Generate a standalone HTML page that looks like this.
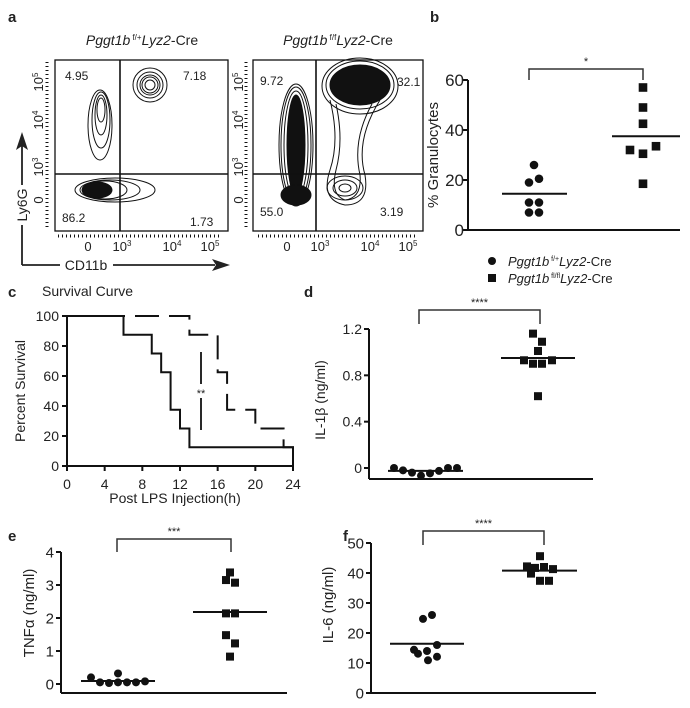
<!DOCTYPE html>
<html><head><meta charset="utf-8"><style>
html,body{margin:0;padding:0;background:#fff;}
svg{display:block;font-family:"Liberation Sans",sans-serif;}
text{fill:#222;}
</style></head><body>
<svg id="fig" width="690" height="708" viewBox="0 0 690 708">
<g>
<text x="8" y="22" font-size="15" font-weight="bold">a</text>
<text x="142" y="45" font-size="14" text-anchor="middle"><tspan font-style="italic">Pggt1b</tspan><tspan font-size="8" dy="-5"> f/+</tspan><tspan dy="5" font-style="italic">Lyz2</tspan>-Cre</text>
<text x="338" y="45" font-size="14" text-anchor="middle"><tspan font-style="italic">Pggt1b</tspan><tspan font-size="8" dy="-5"> f/f</tspan><tspan dy="5" font-style="italic">Lyz2</tspan>-Cre</text>
<g fill="none" stroke="#111" stroke-width="1">
<ellipse cx="100" cy="125" rx="12" ry="35"/><ellipse cx="101" cy="120" rx="9" ry="28"/><ellipse cx="101" cy="115" rx="6" ry="20"/><ellipse cx="101" cy="110" rx="4" ry="12"/>
<ellipse cx="150" cy="85" rx="17" ry="17"/><ellipse cx="150" cy="85" rx="13" ry="13"/><ellipse cx="150" cy="85" rx="10" ry="10"/><ellipse cx="150" cy="85" rx="8" ry="8"/><ellipse cx="150" cy="85" rx="5" ry="5"/>
<ellipse cx="115" cy="190" rx="40" ry="12"/><ellipse cx="110" cy="190" rx="30" ry="10"/><ellipse cx="105" cy="190" rx="22" ry="9"/>
<ellipse cx="97" cy="190" rx="15" ry="8" fill="#111"/>
<rect x="55" y="60" width="173" height="171" stroke-width="1.3"/>
<line x1="120" y1="60" x2="120" y2="231" stroke-width="1.6"/>
<line x1="55" y1="174" x2="228" y2="174" stroke-width="1.6"/>
<line x1="47" y1="62" x2="47" y2="228" stroke-width="3" stroke-dasharray="1 3"/>
<line x1="58" y1="236" x2="222" y2="236" stroke-width="3" stroke-dasharray="1 3"/>
</g>
<g font-size="12">
<text x="65" y="80">4.95</text><text x="183" y="80">7.18</text><text x="62" y="222">86.2</text><text x="190" y="226">1.73</text>
</g>
<g fill="none" stroke="#111" stroke-width="1">
<ellipse cx="296" cy="145" rx="9" ry="50" fill="#111"/>
<ellipse cx="296" cy="145" rx="12" ry="54"/><ellipse cx="296" cy="145" rx="15" ry="58"/><ellipse cx="296" cy="145" rx="17" ry="61"/>
<ellipse cx="360" cy="85" rx="30" ry="20" fill="#111"/>
<ellipse cx="360" cy="85" rx="34" ry="24"/><ellipse cx="360" cy="86" rx="38" ry="28"/>
<path d="M330 100 Q340 140 330 170 Q320 200 345 205 Q370 205 365 175 Q355 140 380 100"/>
<path d="M336 104 Q344 140 336 170 Q330 195 345 200 Q362 198 360 175 Q352 140 372 104"/>
<ellipse cx="345" cy="188" rx="18" ry="12"/><ellipse cx="345" cy="188" rx="12" ry="8"/><ellipse cx="345" cy="188" rx="6" ry="4"/>
<ellipse cx="296" cy="195" rx="15" ry="10" fill="#111"/>
<rect x="253" y="60" width="170" height="171" stroke-width="1.3"/>
<line x1="316" y1="60" x2="316" y2="231" stroke-width="1.6"/>
<line x1="253" y1="174" x2="423" y2="174" stroke-width="1.6"/>
<line x1="246" y1="62" x2="246" y2="228" stroke-width="3" stroke-dasharray="1 3"/>
<line x1="258" y1="236" x2="418" y2="236" stroke-width="3" stroke-dasharray="1 3"/>
</g>
<g font-size="12">
<text x="260" y="85">9.72</text><text x="397" y="86">32.1</text><text x="260" y="216">55.0</text><text x="380" y="216">3.19</text>
</g>
<g font-size="13">
<text transform="translate(43,82) rotate(-90)" text-anchor="middle">10<tspan font-size="8" dy="-5">5</tspan></text>
<text transform="translate(43,120) rotate(-90)" text-anchor="middle">10<tspan font-size="8" dy="-5">4</tspan></text>
<text transform="translate(43,167) rotate(-90)" text-anchor="middle">10<tspan font-size="8" dy="-5">3</tspan></text>
<text transform="translate(43,200) rotate(-90)" text-anchor="middle">0</text>
<text transform="translate(243,82) rotate(-90)" text-anchor="middle">10<tspan font-size="8" dy="-5">5</tspan></text>
<text transform="translate(243,120) rotate(-90)" text-anchor="middle">10<tspan font-size="8" dy="-5">4</tspan></text>
<text transform="translate(243,167) rotate(-90)" text-anchor="middle">10<tspan font-size="8" dy="-5">3</tspan></text>
<text transform="translate(243,200) rotate(-90)" text-anchor="middle">0</text>
<text x="88" y="251" text-anchor="middle">0</text><text x="122" y="251" text-anchor="middle">10<tspan font-size="8" dy="-5">3</tspan></text>
<text x="172" y="251" text-anchor="middle">10<tspan font-size="8" dy="-5">4</tspan></text><text x="210" y="251" text-anchor="middle">10<tspan font-size="8" dy="-5">5</tspan></text>
<text x="287" y="251" text-anchor="middle">0</text><text x="320" y="251" text-anchor="middle">10<tspan font-size="8" dy="-5">3</tspan></text>
<text x="370" y="251" text-anchor="middle">10<tspan font-size="8" dy="-5">4</tspan></text><text x="408" y="251" text-anchor="middle">10<tspan font-size="8" dy="-5">5</tspan></text>
</g>
<g>
<path d="M22 265 L22 145 M22 265 L60 265 M113 265 L215 265" stroke="#222" stroke-width="1.8" fill="none"/>
<path d="M22 132 L16 150 L22 146 L28 150Z M230 265 L212 259 L216 265 L212 271Z" fill="#222"/>
<rect x="14" y="185" width="16" height="40" fill="#fff"/>
<text transform="translate(27,205) rotate(-90)" font-size="14" text-anchor="middle">Ly6G</text>
<text x="86" y="270" font-size="14" text-anchor="middle">CD11b</text>
</g>
</g>

<text x="430" y="22" font-size="15" font-weight="bold">b</text>
<text x="8" y="297" font-size="15" font-weight="bold">c</text>
<text x="42" y="296" font-size="14">Survival Curve</text>
<text x="304" y="297" font-size="15" font-weight="bold">d</text>
<text x="8" y="541" font-size="15" font-weight="bold">e</text>
<text x="343" y="541" font-size="15" font-weight="bold">f</text>

<g>
<circle cx="492" cy="261" r="4" fill="#111"/>
<text x="508" y="266" font-size="13"><tspan font-style="italic">Pggt1b</tspan><tspan font-size="7" dy="-5"> f/+</tspan><tspan dy="5" font-style="italic">Lyz2</tspan>-Cre</text>
<rect x="488" y="274" width="8" height="8" fill="#111"/>
<text x="508" y="283" font-size="13"><tspan font-style="italic">Pggt1b</tspan><tspan font-size="7" dy="-5"> fl/fl</tspan><tspan dy="5" font-style="italic">Lyz2</tspan>-Cre</text>
</g>
<g id="dyn"></g>
</svg>
<script>
// Panel b data
const bTicks=[0,20,40,60];
const bGroup1=[26,19,20.5,11,11,7,7];
const bGroup2=[57,49,42.5,32,30.5,33.5,18.5];
const bG1Jitter=[0,-1,1,-1,1,-1,1];
const bG2Jitter=[0,0,0,-1,0,1,0];
const bMedians=[14.5,37.5];
// Panel c data
const cTicks=[0,20,40,60,80,100];
const cXTicks=[0,4,8,12,16,20,24];
const cSolidTimes=[0,6,9,10,11,12,13,24,24];
const cSolidVals=[100,87.5,75,62.5,37.5,25,12.5,12.5,0];
const cDashTimes=[0,13,16,17,20,23,24,24];
const cDashVals=[100,87.5,62.5,37.5,25,12.5,12.5,0];
// Panel d data
const dTicks=[0,0.4,0.8,1.2];
const dTickLabels=["0","0.4","0.8","1.2"];
const dGroup1=[0,-0.02,-0.04,-0.066,-0.046,-0.025,0,0];
const dGroup2=[1.16,1.09,1.01,0.93,0.9,0.9,0.93,0.62];
const dG1Off=[-31,-22,-13,-4,5,14,23,32];
const dG2Off=[-5,4,0,-14,-5,4,14,0];
const dMedians=[-0.025,0.95];
// Panel e data
const eTicks=[0,1,2,3,4];
const eGroup1=[0.2,0.05,0.03,0.05,0.32,0.05,0.05,0.08];
const eGroup2=[3.38,3.15,3.07,2.14,2.14,1.48,1.23,0.83];
const eG1Off=[-27,-18,-9,0,0,9,18,27];
const eG2Off=[0,-4,5,-4,5,-4,5,0];
const eMedians=[0.09,2.18];
// Panel f data
const fTicks=[0,10,20,30,40,50];
const fGroup1=[24.7,26,14.4,13.1,14,16,10.9,12.1];
const fGroup2=[45.6,42.2,41.7,42,41.3,39.8,37.4,37.4];
const fG1Off=[-4,5,-13,-9,0,10,1,10];
const fG2Off=[0,-13,-5,4,13,-9,0,9];
const fMedians=[16.4,40.8];

const NS="http://www.w3.org/2000/svg";
const root=document.getElementById('dyn');
function mk(tag,attrs,parent){const e=document.createElementNS(NS,tag);for(const k in attrs)e.setAttribute(k,attrs[k]);(parent||root).appendChild(e);return e;}
function txt(s,attrs,parent){const e=mk('text',attrs,parent);e.textContent=s;return e;}
function lin(domain,range){return v=>range[0]+(v-domain[0])*(range[1]-range[0])/(domain[1]-domain[0]);}

function scatter(cfg){
  const g=mk('g',{});
  
  
  const y=lin(cfg.dom,cfg.rng);
  const ax=mk('path',{d:`M${cfg.ax} ${cfg.axTop} L${cfg.ax} ${cfg.axBottom} M${cfg.ax} ${cfg.xAxisY} L${cfg.axRight} ${cfg.xAxisY}`,stroke:'#111','stroke-width':2,fill:'none'},g);
  
  
  cfg.ticks.forEach((t,i)=>{
    mk('line',{x1:cfg.ax-5,x2:cfg.ax,y1:y(t),y2:y(t),stroke:'#111','stroke-width':2},g);
    const tl=txt(cfg.tickLabels?cfg.tickLabels[i]:String(t),{x:cfg.ax-(cfg.tgap||7),y:y(t)+cfg.fs*0.36,'font-size':cfg.fs,'text-anchor':'end'},g);
    
    
  });
  const yl=txt(cfg.ylabel,{transform:`translate(${cfg.ylx},${cfg.yly}) rotate(-90)`,'font-size':cfg.lfs,'text-anchor':'middle'},g);
  
  
  cfg.g1.forEach((v,i)=>{
    const c=mk('circle',{cx:cfg.c1+cfg.o1[i],cy:y(v),r:cfg.r,fill:'#111'},g);
    
    
  });
  cfg.g2.forEach((v,i)=>{
    const s=mk('rect',{x:cfg.c2+cfg.o2[i]-cfg.r,y:y(v)-cfg.r,width:cfg.r*2,height:cfg.r*2,fill:'#111'},g);
    
    
  });
  [0,1].forEach(k=>{
    const m=mk('line',{x1:cfg.med[k][0],x2:cfg.med[k][1],y1:y(cfg.meds[k]),y2:y(cfg.meds[k]),stroke:'#111','stroke-width':2},g);
    
    
  });
  const br=mk('path',{d:`M${cfg.br[0]} ${cfg.br[3]} L${cfg.br[0]} ${cfg.br[2]} L${cfg.br[1]} ${cfg.br[2]} L${cfg.br[1]} ${cfg.br[3]}`,stroke:'#333','stroke-width':1.5,fill:'none'},g);
  
  
  const st=txt(cfg.star,{x:(cfg.br[0]+cfg.br[1])/2,y:cfg.br[2]-4,'font-size':11,'text-anchor':'middle'},g);
  
  
}

scatter({name:'panel-b-granulocytes',dom:[0,60],rng:[230,80],ax:468,axTop:80,axBottom:230,xAxisY:230,axRight:680,
 ticks:bTicks,fs:17,tgap:4,ylabel:'% Granulocytes',ylx:438,yly:155,lfs:15,
 g1:bGroup1,g2:bGroup2,c1:534,c2:643,o1:bG1Jitter.map(v=>v*5),o2:bG2Jitter.map(v=>v*13),r:4.3,
 meds:bMedians,med:[[502,567],[612,680]],br:[529,643,69,80],star:'*'});
scatter({name:'panel-d-il1b',dom:[0,1.2],rng:[468,329],ax:369,axTop:329,axBottom:479,xAxisY:479,axRight:593,
 ticks:dTicks,tickLabels:dTickLabels,fs:14,ylabel:'IL-1β (ng/ml)',ylx:325,yly:400,lfs:14,
 g1:dGroup1,g2:dGroup2,c1:425,c2:538,o1:dG1Off,o2:dG2Off,r:4,
 meds:dMedians,med:[[388,463],[501,575]],br:[419,540,310,324],star:'****'});
scatter({name:'panel-e-tnfa',dom:[0,4],rng:[684,552],ax:61,axTop:552,axBottom:693,xAxisY:693,axRight:287,
 ticks:eTicks,fs:15,ylabel:'TNFα (ng/ml)',ylx:34,yly:613,lfs:15,
 g1:eGroup1,g2:eGroup2,c1:118,c2:230,o1:eG1Off,o2:eG2Off,r:4,
 meds:eMedians,med:[[81,155],[193,267]],br:[117,231,539,552],star:'***'});
scatter({name:'panel-f-il6',dom:[0,50],rng:[693,543],ax:371,axTop:543,axBottom:693,xAxisY:693,axRight:596,
 ticks:fTicks,fs:15,ylabel:'IL-6 (ng/ml)',ylx:333,yly:605,lfs:15,
 g1:fGroup1,g2:fGroup2,c1:427,c2:540,o1:fG1Off,o2:fG2Off,r:4,
 meds:fMedians,med:[[390,464],[502,577]],br:[423,544,531,545],star:'****'});

(function(){
  const g=mk('g',{});
  
  
  const x=lin([0,24],[67,293]), y=lin([0,100],[466,316]);
  const ax=mk('path',{d:`M67 316 L67 466 L293 466`,stroke:'#111','stroke-width':2,fill:'none'},g);
  
  
  cTicks.forEach(t=>{
    mk('line',{x1:62,x2:67,y1:y(t),y2:y(t),stroke:'#111','stroke-width':2},g);
    const l=txt(String(t),{x:59,y:y(t)+5,'font-size':14,'text-anchor':'end'},g);
    
    
  });
  cXTicks.forEach(t=>{
    mk('line',{x1:x(t),x2:x(t),y1:466,y2:471,stroke:'#111','stroke-width':2},g);
    const l=txt(String(t),{x:x(t),y:489,'font-size':14,'text-anchor':'middle'},g);
    
    
  });
  function step(times,vals){let d=`M${x(times[0])} ${y(vals[0])}`;for(let i=1;i<times.length;i++){d+=` L${x(times[i])} ${y(vals[i-1])} L${x(times[i])} ${y(vals[i])}`;}return d;}
  const s=mk('path',{d:step(cSolidTimes,cSolidVals),stroke:'#111','stroke-width':2,fill:'none'},g);
  
  
  const dl=mk('path',{d:step(cDashTimes,cDashVals),stroke:'#111','stroke-width':2,fill:'none','stroke-dasharray':'24 10'},g);
  
  
  const sig=mk('line',{x1:201,x2:201,y1:352,y2:430,stroke:'#111','stroke-width':1.8},g);
  
  
  mk('rect',{x:194,y:384,width:14,height:14,fill:'#fff'},g);
  const st=txt('**',{x:201,y:397,'font-size':11,'text-anchor':'middle'},g);
  
  
  const yl=txt('Percent Survival',{transform:'translate(25,391) rotate(-90)','font-size':14,'text-anchor':'middle'},g);
  
  
  const xl=txt('Post LPS Injection(h)',{x:175,y:503,'font-size':14,'text-anchor':'middle'},g);
  
  
})();
</script>
</body></html>
